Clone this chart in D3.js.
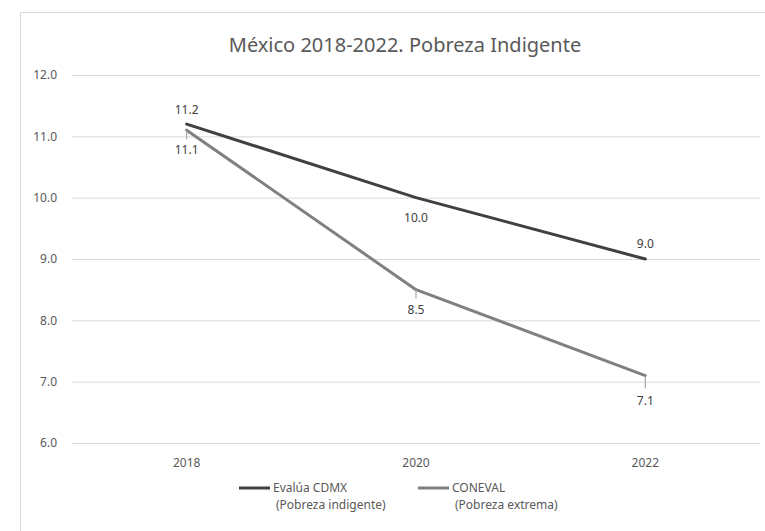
<!DOCTYPE html>
<html>
<head>
<meta charset="utf-8">
<script src="https://cdn.jsdelivr.net/npm/d3@7"></script>
<style>
  html, body { margin: 0; padding: 0; background: #fff; }
  svg { display: block; }
</style>
</head>
<body>
<svg id="chart" width="765" height="531"></svg>
<script>
// Years on the category axis
const years = ["2018", "2020", "2022"];
// Evalúa CDMX (Pobreza indigente), %
const evalua = [11.2, 10.0, 9.0];
// CONEVAL (Pobreza extrema), %
const coneval = [11.1, 8.5, 7.1];
// Value axis ticks
const yTicks = [6, 7, 8, 9, 10, 11, 12];
const seriesNames = [["Evalúa CDMX", "(Pobreza indigente)"], ["CONEVAL", "(Pobreza extrema)"]];

const svg = d3.select("#chart");
const font = "'Noto Sans', 'Liberation Sans', sans-serif";
const textCol = "#595959";

// Chart frame
svg.append("rect")
  .attr("x", 20.5).attr("y", 12.5)
  .attr("width", 800).attr("height", 600)
  .attr("fill", "#fff").attr("stroke", "#d9d9d9").attr("stroke-width", 1);

const plot = { left: 72, right: 760, top: 75, bottom: 443 };

const x = d3.scaleBand().domain(years).range([plot.left, plot.right]);
const y = d3.scaleLinear().domain([6, 12]).range([plot.bottom, plot.top]);
const cx = d => x(d) + x.bandwidth() / 2;

// Title
svg.append("text")
  .attr("x", 405).attr("y", 52)
  .attr("text-anchor", "middle")
  .attr("font-family", font).attr("font-size", 20)
  .attr("fill", textCol)
  .text("México 2018-2022. Pobreza Indigente");

// Horizontal gridlines and value labels
const yAxis = d3.axisLeft(y).tickValues(yTicks)
  .tickFormat(d3.format(".1f"))
  .tickSize(-(plot.right - plot.left)).tickPadding(15);
const gy = svg.append("g").attr("transform", `translate(${plot.left},0)`).call(yAxis);
gy.select(".domain").remove();
gy.selectAll(".tick line").attr("stroke", "#d9d9d9").attr("stroke-width", 1);
gy.selectAll(".tick text").attr("font-family", font).attr("font-size", 12).attr("fill", textCol);

// Category labels
const xAxis = d3.axisBottom(x).tickSize(0).tickPadding(15);
const gx = svg.append("g").attr("transform", `translate(0,${plot.bottom})`).call(xAxis);
gx.select(".domain").remove();
gx.selectAll(".tick text").attr("font-family", font).attr("font-size", 12).attr("fill", textCol);

const line = d3.line().x((d, i) => cx(years[i])).y(d => y(d));

const series = [
  { values: coneval, color: "#808080", labelOffset: [24, 24, 29] },
  { values: evalua, color: "#404040", labelOffset: [-10, 24, -11] }
];

series.forEach(s => {
  svg.append("path")
    .datum(s.values)
    .attr("d", line)
    .attr("fill", "none")
    .attr("stroke", s.color)
    .attr("stroke-width", 3)
    .attr("stroke-linejoin", "round")
    .attr("stroke-linecap", "round");
});

// CONEVAL leader ticks from point to its label
coneval.forEach((v, i) => {
  svg.append("line")
    .attr("x1", cx(years[i])).attr("x2", cx(years[i]))
    .attr("y1", y(v)).attr("y2", y(v) + (i === 2 ? 13 : 9))
    .attr("stroke", "#a6a6a6").attr("stroke-width", 1.2);
});

// Data labels
series.forEach(s => {
  s.values.forEach((v, i) => {
    svg.append("text")
      .attr("x", cx(years[i]))
      .attr("y", y(v) + s.labelOffset[i])
      .attr("text-anchor", "middle")
      .attr("font-family", font).attr("font-size", 12)
      .attr("fill", "#404040")
      .text(d3.format(".1f")(v));
  });
});

// Legend
const legend = [
  { x: 239, color: "#404040", name: seriesNames[0] },
  { x: 418, color: "#808080", name: seriesNames[1] }
];
legend.forEach(l => {
  const g = svg.append("g").attr("transform", `translate(${l.x},488)`);
  g.append("line").attr("x1", 0).attr("x2", 31).attr("y1", 0).attr("y2", 0)
    .attr("stroke", l.color).attr("stroke-width", 3);
  g.append("text").attr("x", 34).attr("y", 4)
    .attr("font-family", font).attr("font-size", 12).attr("fill", textCol)
    .text(l.name[0]);
  g.append("text").attr("x", 37).attr("y", 21)
    .attr("font-family", font).attr("font-size", 12).attr("fill", textCol)
    .text(l.name[1]);
});
</script>
</body>
</html>
